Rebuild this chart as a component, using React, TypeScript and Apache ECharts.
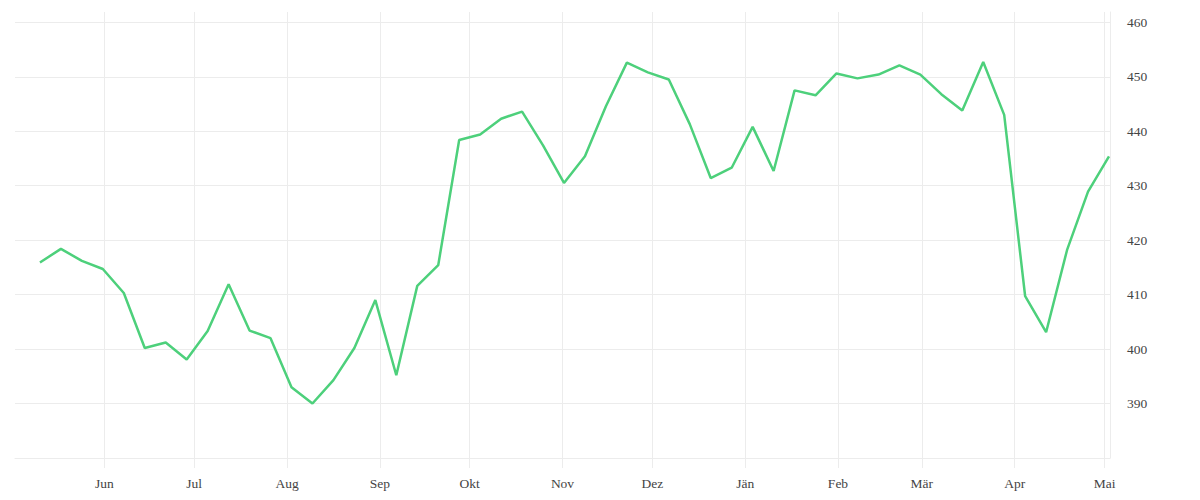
import React, { useEffect, useRef } from "react";
import * as echarts from "echarts";

const DATES = [
  "2022-05-10", "2022-05-17", "2022-05-24", "2022-05-31",
  "2022-06-07", "2022-06-14", "2022-06-21", "2022-06-28",
  "2022-07-05", "2022-07-12", "2022-07-19", "2022-07-26",
  "2022-08-02", "2022-08-09", "2022-08-16", "2022-08-23", "2022-08-30",
  "2022-09-06", "2022-09-13", "2022-09-20", "2022-09-27",
  "2022-10-04", "2022-10-11", "2022-10-18", "2022-10-25",
  "2022-11-01", "2022-11-08", "2022-11-15", "2022-11-22", "2022-11-29",
  "2022-12-06", "2022-12-13", "2022-12-20", "2022-12-27",
  "2023-01-03", "2023-01-10", "2023-01-17", "2023-01-24", "2023-01-31",
  "2023-02-07", "2023-02-14", "2023-02-21", "2023-02-28",
  "2023-03-07", "2023-03-14", "2023-03-21", "2023-03-28",
  "2023-04-04", "2023-04-11", "2023-04-18", "2023-04-25",
  "2023-05-02",
];

const VALUES = [
  415.9, 418.4, 416.2, 414.7, 410.3, 400.2, 401.2, 398.1,
  403.3, 411.9, 403.4, 402.0, 393.0, 390.0, 394.3, 400.2, 409.0,
  395.2, 411.6, 415.4, 438.4, 439.4, 442.3, 443.6, 437.4,
  430.5, 435.4, 444.6, 452.6, 450.8, 449.5, 441.3, 431.4, 433.3,
  440.8, 432.7, 447.5, 446.6, 450.6, 449.7, 450.4, 452.1, 450.4,
  446.8, 443.8, 452.7, 443.0, 409.7, 403.1, 418.2, 428.9, 435.4,
];

const MONTH_LABELS = ["Jän", "Feb", "Mär", "Apr", "Mai", "Jun", "Jul", "Aug", "Sep", "Okt", "Nov", "Dez"];

const X_MIN = "2022-05-02T04:00:00";
const X_MAX = "2023-05-02T20:00:00";
const Y_MIN = 380;
const Y_MAX = 461.89;

const GRID_COLOR = "#ececec";
const TEXT_COLOR = "#444444";
const LINE_COLOR = "#4dd07b";
const FONT = "'Liberation Serif', 'DejaVu Serif', serif";

export default function App() {
  const ref = useRef<HTMLDivElement>(null);

  useEffect(() => {
    document.body.style.margin = "0";
    if (!ref.current) return;
    const chart = echarts.init(ref.current, null, { renderer: "svg" });
    const data = DATES.map((d, i) => [new Date(d + "T12:00:00").getTime(), VALUES[i]]);
    chart.setOption({
      animation: false,
      backgroundColor: "#ffffff",
      grid: { left: 15, right: 90, top: 12, bottom: 42, containLabel: false },
      xAxis: {
        type: "time",
        min: new Date(X_MIN).getTime(),
        max: new Date(X_MAX).getTime(),
        splitNumber: 12,
        axisLine: { show: true, lineStyle: { color: GRID_COLOR, width: 1 } },
        axisTick: { show: true, length: 10, lineStyle: { color: GRID_COLOR } },
        splitLine: { show: true, showMinLine: false, lineStyle: { color: GRID_COLOR, width: 1 } },
        axisLabel: {
          margin: 18,
          fontFamily: FONT,
          fontSize: 13.5,
          color: TEXT_COLOR,
          showMinLabel: false,
          showMaxLabel: false,
          formatter: (v: number) => {
            const d = new Date(v);
            if (d.getDate() !== 1 || d.getHours() !== 0) return "";
            return MONTH_LABELS[d.getMonth()];
          },
        },
      },
      yAxis: {
        type: "value",
        position: "right",
        min: Y_MIN,
        max: Y_MAX,
        splitNumber: 8,
        minInterval: 10,
        maxInterval: 10,
        axisLine: { show: true, lineStyle: { color: GRID_COLOR, width: 1 } },
        axisTick: { show: false },
        splitLine: { show: true, showMinLine: false, showMaxLine: false, lineStyle: { color: GRID_COLOR, width: 1 } },
        axisLabel: {
          margin: 17,
          fontFamily: FONT,
          fontSize: 13.5,
          color: TEXT_COLOR,
          showMinLabel: false,
          showMaxLabel: false,
          formatter: (v: number) => (Math.abs(v / 10 - Math.round(v / 10)) < 1e-6 && v > 385 ? String(Math.round(v)) : ""),
        },
      },
      series: [
        {
          type: "line",
          data,
          showSymbol: false,
          symbol: "none",
          lineStyle: { color: LINE_COLOR, width: 2.5 },
          itemStyle: { color: LINE_COLOR },
        },
      ],
    });
    return () => chart.dispose();
  }, []);

  return <div ref={ref} style={{ width: 1200, height: 500 }} />;
}
